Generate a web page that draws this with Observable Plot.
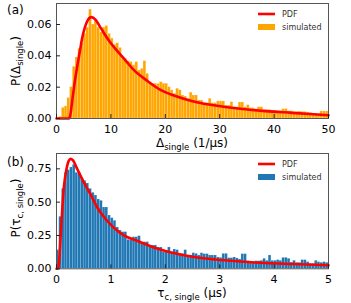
<!DOCTYPE html>
<html><head><meta charset="utf-8">
<script src="https://cdn.jsdelivr.net/npm/d3@7"></script>
<script src="https://cdn.jsdelivr.net/npm/@observablehq/plot@0.6"></script>
<style>body{margin:0;background:#fff} svg{display:block}</style>
</head><body><div id="chart"></div>
<script>
// ---- Panel (a): Δ_single ----
const deltaBinWidth = 0.5;
const deltaHist = [
0.0003,0.001,0.0068,0.0077,0.013,0.020,0.033,0.039,0.0445,0.048,
0.054,0.058,0.0695,0.060,0.0626,0.058,0.055,0.058,0.059,0.054,
0.051,0.047,0.048,0.045,0.038,0.038,0.0366,0.036,0.034,0.036,
0.0307,0.0317,0.0366,0.0285,0.0232,0.0222,0.0222,0.022,0.0232,0.0222,
0.0222,0.020,0.018,0.0158,0.019,0.018,0.0147,0.014,0.0126,0.0165,
0.0147,0.0147,0.0115,0.0115,0.0098,0.0098,0.0126,0.0098,0.0098,0.0109,
0.0109,0.0109,0.0083,0.0083,0.0104,0.0072,0.0072,0.0102,0.0102,0.0072,
0.0085,0.0066,0.0066,0.006,0.0072,0.0072,0.0055,0.0055,0.0055,0.0051,
0.0051,0.0047,0.0047,0.006,0.006,0.0047,0.0047,0.0042,0.0042,0.0045,
0.0042,0.0042,0.0038,0.0035,0.003,0.003,0.0028,0.0045,0.0045,0.0045];
const deltaPdfX = [0,2.3,2.45,2.9,3.3,3.8,4.3,4.7,5.2,5.7,6.4,7.2,8.1,9,10,11.2,12.7,14.2,16.7,19.1,21.6,24,26,29.2,33.8,38.4,43.3,50];
const deltaPdfY = [0,0,0.0008,0.0115,0.022,0.033,0.043,0.051,0.058,0.0625,0.0647,0.063,0.058,0.053,0.048,0.043,0.037,0.031,0.024,0.0183,0.0147,0.012,0.0102,0.0083,0.0062,0.0047,0.0036,0.0021];
const deltaTicksX = [0,10,20,30,40,50];
const deltaTicksY = [0,0.02,0.04,0.06];

// ---- Panel (b): τ_c,single ----
const tauBinWidth = 0.05;
const tauHist = [
0.14,0.39,0.60,0.72,0.74,0.76,0.78,0.72,0.72,0.68,
0.66,0.64,0.60,0.57,0.55,0.52,0.51,0.46,0.46,0.40,
0.38,0.36,0.31,0.287,0.275,0.275,0.217,0.217,0.237,0.237,
0.245,0.192,0.20,0.20,0.175,0.175,0.175,0.16,0.16,0.125,
0.125,0.16,0.125,0.145,0.14,0.112,0.112,0.14,0.10,0.10,
0.117,0.112,0.10,0.117,0.11,0.11,0.10,0.10,0.10,0.085,
0.082,0.112,0.112,0.08,0.08,0.085,0.078,0.07,0.11,0.11,
0.057,0.05,0.05,0.057,0.057,0.06,0.075,0.06,0.10,0.06,
0.06,0.065,0.06,0.082,0.082,0.075,0.047,0.06,0.045,0.045,
0.065,0.065,0.05,0.037,0.037,0.06,0.05,0.045,0.05,0.045];
const tauPdfX = [0,0.025,0.045,0.075,0.105,0.135,0.18,0.225,0.26,0.30,0.38,0.50,0.625,0.75,0.87,1.0,1.12,1.24,1.48,1.79,2.09,2.56,2.92,3.38,3.84,4.33,5.0];
const tauPdfY = [0,0,0.04,0.24,0.44,0.61,0.74,0.81,0.825,0.815,0.75,0.65,0.56,0.46,0.39,0.33,0.285,0.25,0.21,0.16,0.125,0.087,0.07,0.055,0.043,0.036,0.027];
const tauTicksX = [0,1,2,3,4,5];
const tauTicksY = [0,0.25,0.5,0.75];

const FONT = "DejaVu Sans";

function panel(o) {
  const bins = o.hist.map((v, i) => ({x1: i * o.binW, x2: (i + 1) * o.binW, y: v}));
  const pdf = o.pdfX.map((x, i) => ({x, y: o.pdfY[i]}));
  const svg = Plot.plot({
    width: 351, height: o.height,
    marginLeft: 56, marginRight: 23, marginTop: o.marginTop, marginBottom: o.marginBottom,
    style: {fontFamily: FONT, fontSize: "11px", color: "#000", background: "#fff", overflow: "visible"},
    x: {domain: o.xDomain, label: null},
    y: {domain: o.yDomain, label: null},
    marks: [
      Plot.rect(bins, {x1: "x1", x2: "x2", y1: 0, y2: "y", fill: o.fill, stroke: "#fff", strokeOpacity: 0.3, strokeWidth: 0.5}),
      Plot.line(pdf, {x: "x", y: "y", stroke: "#ff0000", strokeWidth: 2.6, curve: "monotone-x"}),
      Plot.frame({stroke: "#555", strokeWidth: 1}),
      Plot.axisX(o.xTicks, {tickSize: -4, tickPadding: o.xPad, tickFormat: d => String(d), stroke: "#222", fill: "#000"}),
      Plot.axisY(o.yTicks, {tickSize: -4, tickPadding: 9, tickFormat: d3.format(".2f"), stroke: "#222", fill: "#000"})
    ]
  });
  const s = d3.select(svg);
  // panel letter
  s.append("text").attr("x", 7).attr("y", o.letterY).attr("text-anchor", "start")
    .attr("font-family", FONT).attr("font-size", 12).attr("fill", "#000").text(o.letter);
  // y label
  const yl = s.append("text").attr("font-family", FONT).attr("font-size", 12).attr("fill", "#000")
    .attr("text-anchor", "middle").attr("transform", `translate(19.5,${o.yLabelY}) rotate(-90)`);
  appendParts(yl, o.yLabel);
  // x label
  const xl = s.append("text").attr("font-family", FONT).attr("font-size", 12).attr("fill", "#000")
    .attr("text-anchor", "middle").attr("x", 192).attr("y", o.xLabelY);
  appendParts(xl, o.xLabel);
  // legend
  const lg = s.append("g").attr("font-family", FONT).attr("font-size", 8).attr("fill", "#333").attr("text-anchor", "start");
  lg.append("line").attr("x1", 258).attr("x2", 275).attr("y1", 14).attr("y2", 14).attr("stroke", "#ff0000").attr("stroke-width", 2.6);
  lg.append("text").attr("x", 282).attr("y", 17.2).attr("text-anchor", "start").text("PDF");
  lg.append("rect").attr("x", 258).attr("y", 24).attr("width", 17).attr("height", 6).attr("fill", o.fill);
  lg.append("text").attr("x", 282).attr("y", 30.3).attr("text-anchor", "start").text("simulated");
  return svg;
}

function appendParts(textSel, parts) {
  parts.forEach(p => {
    const t = textSel.append("tspan").text(p.t);
    if (p.sub) t.attr("font-size", 8.5).attr("dy", 3);
    if (p.back) t.attr("dy", -3);
  });
}

const root = document.getElementById("chart");
root.appendChild(panel({
  hist: deltaHist, binW: deltaBinWidth, pdfX: deltaPdfX, pdfY: deltaPdfY,
  xDomain: [0, 50], yDomain: [0, 0.0734], xTicks: deltaTicksX, yTicks: deltaTicksY,
  fill: "#ffa500", height: 150, marginTop: 3, marginBottom: 32, xPad: 11,
  letter: "(a)", letterY: 14, yLabelY: 61, xLabelY: 146.5,
  yLabel: [{t: "P(Δ"}, {t: "single", sub: true}, {t: ")", back: true}],
  xLabel: [{t: "Δ"}, {t: "single", sub: true}, {t: " (1/μs)", back: true}]
}));
root.appendChild(panel({
  hist: tauHist, binW: tauBinWidth, pdfX: tauPdfX, pdfY: tauPdfY,
  xDomain: [0, 5], yDomain: [0, 0.865], xTicks: tauTicksX, yTicks: tauTicksY,
  fill: "#1f77b4", height: 153, marginTop: 3, marginBottom: 34.7, xPad: 10.5,
  letter: "(b)", letterY: 16, yLabelY: 58, xLabelY: 146.5,
  yLabel: [{t: "P(τ"}, {t: "c, single", sub: true}, {t: ")", back: true}],
  xLabel: [{t: "τ"}, {t: "c, single", sub: true}, {t: " (μs)", back: true}]
}));
</script>
</body></html>
